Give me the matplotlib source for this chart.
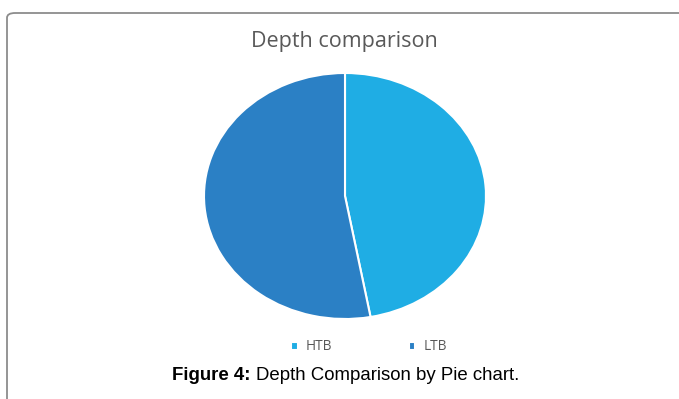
import matplotlib
matplotlib.use('Agg')
import matplotlib.pyplot as plt
from matplotlib.patches import FancyBboxPatch

# pie data
labels = ['HTB', 'LTB']
values = [47.1, 52.9]
colors = ['#1fade4', '#2b80c5']

fig = plt.figure(figsize=(6.79, 3.99), dpi=100)

# rounded frame around the chart (runs off the right and bottom edges)
frame = FancyBboxPatch((7 / 679, -0.2), 1.2, 1.2 - 13 / 399,
                       boxstyle='round,pad=0,rounding_size=0.012',
                       transform=fig.transFigure, fill=False,
                       edgecolor='#8c8c8c', linewidth=1.3)
fig.patches.append(frame)

ax = fig.add_axes([204 / 679, 1 - 319 / 399, 282 / 679, 246 / 399])
wedges, _ = ax.pie(values, colors=colors, startangle=90, counterclock=False,
                   wedgeprops=dict(edgecolor='white', linewidth=1.5))
ax.set_xlim(-1.0, 1.0)
ax.set_ylim(-1.0, 1.0)
ax.set_aspect('auto')
ax.axis('off')

fig.text(344 / 679, 1 - 42 / 399, 'Depth comparison', ha='center', va='center',
         fontsize=15.5, color='#595959', family='Open Sans')

# legend
leg = fig.legend(wedges, labels, loc='center', bbox_to_anchor=(369 / 679, 1 - 347 / 399),
                 ncol=2, frameon=False, handlelength=0.5, handleheight=0.5,
                 columnspacing=5.6, handletextpad=0.6,
                 prop={'family': 'Open Sans', 'size': 9.8})
for t in leg.get_texts():
    t.set_color('#595959')

# caption
y_cap = 1 - 375 / 399
cap1 = fig.text(172 / 679, y_cap, 'Figure 4:', ha='left', va='center',
                fontsize=13.4, family='Liberation Sans', fontweight='bold', color='black')
fig.canvas.draw()
bb = cap1.get_window_extent()
fig.text((bb.x1 + 5) / 679, y_cap, 'Depth Comparison by Pie chart.', ha='left',
         va='center', fontsize=13.4, family='Liberation Sans', color='black')

fig.savefig('out.png', dpi=100)
